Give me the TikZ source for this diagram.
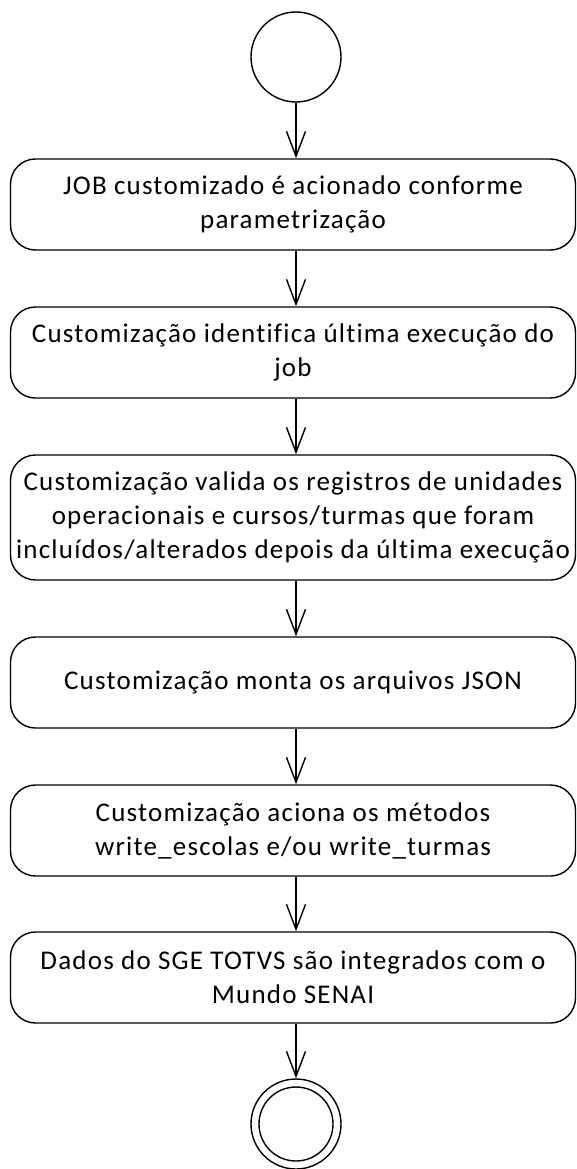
\documentclass[tikz,border=0pt]{standalone}
\usepackage{fontspec}
\setmainfont{Carlito}[LetterSpace=4.5,Ligatures=NoCommon]
\usetikzlibrary{arrows.meta}
\begin{document}
\begin{tikzpicture}[x=1pt,y=-1pt,
  stepbox/.style={draw, line width=1.4pt, rounded corners=25pt, minimum width=565pt,
    align=center, font=\fontsize{27}{34}\selectfont, inner sep=0pt},
  startnode/.style={draw, circle, line width=1.4pt, minimum size=90pt, inner sep=0pt},
  innernode/.style={draw, circle, line width=1.4pt, minimum size=74pt, inner sep=0pt},
  arr/.style={line width=1.4pt, -{Straight Barb[length=25pt,width=19pt,line width=1.4pt]}}]
\useasboundingbox (0,0) rectangle (576,1169);
\node[startnode] (s) at (296,57) {};
\node[stepbox, minimum height=91pt] (b1) at (293,204.5) {JOB customizado é acionado conforme\\parametrização};
\node[stepbox, minimum height=91pt] (b2) at (293,352.5) {Customização identifica última execução do\\job};
\node[stepbox, minimum height=125pt] (b3) at (293,517.5) {Customização valida os registros de unidades\\operacionais e cursos/turmas que foram\\incluídos/alterados depois da última execução};
\node[stepbox, minimum height=91pt] (b4) at (293,682.5) {Customização monta os arquivos JSON};
\node[stepbox, minimum height=91pt] (b5) at (293,830.5) {Customização aciona os métodos\\write\_escolas e/ou write\_turmas};
\node[stepbox, minimum height=91pt] (b6) at (293,977.5) {Dados do SGE TOTVS são integrados com o\\Mundo SENAI};
\node[startnode] (e) at (296,1124) {};
\node[innernode] (ei) at (e) {};
\draw[arr] (s.south) -- (b1.north -| s);
\draw[arr] (b1.south -| s) -- (b2.north -| s);
\draw[arr] (b2.south -| s) -- (b3.north -| s);
\draw[arr] (b3.south -| s) -- (b4.north -| s);
\draw[arr] (b4.south -| s) -- (b5.north -| s);
\draw[arr] (b5.south -| s) -- (b6.north -| s);
\draw[arr] (b6.south -| s) -- (e.north);
\end{tikzpicture}
\end{document}
